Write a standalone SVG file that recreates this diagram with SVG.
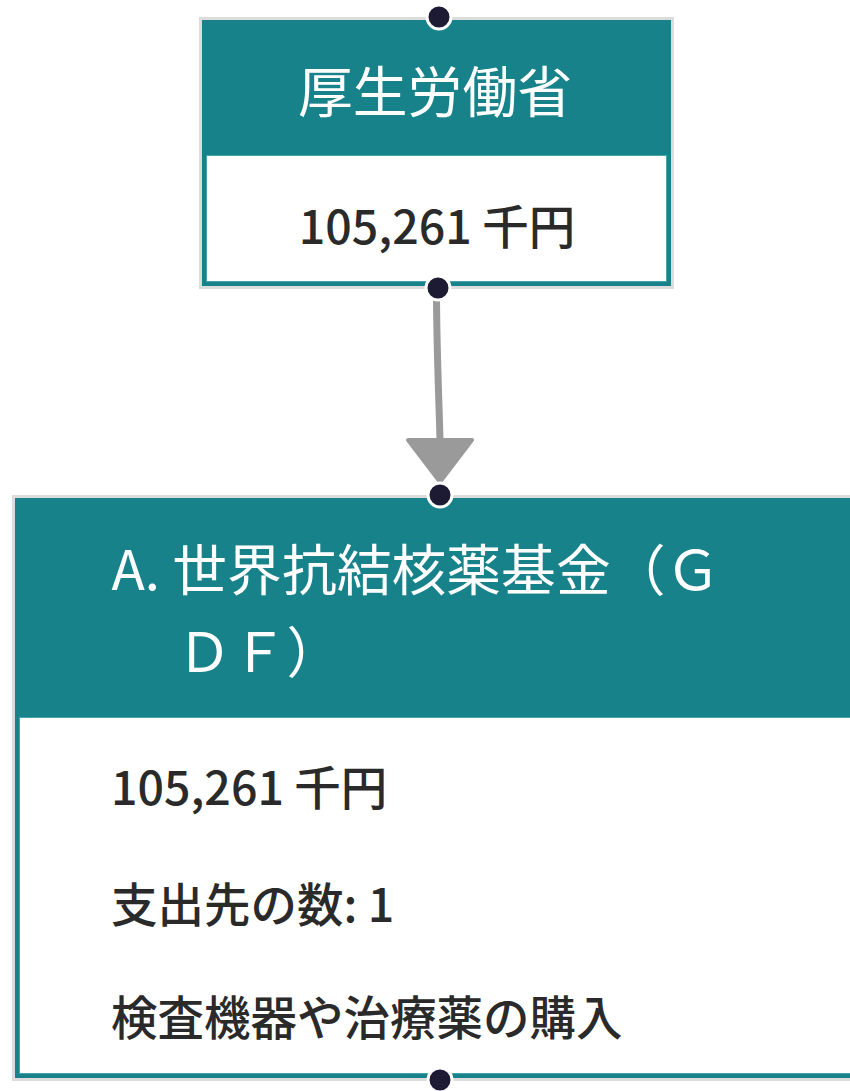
<svg xmlns="http://www.w3.org/2000/svg" width="850" height="1091" viewBox="0 0 850 1091">
<defs>
<style>
.outer{fill:none;stroke:#dcdcdc;stroke-width:3}
.frame{fill:#18828a}
.body{fill:#ffffff;stroke:#4aa3aa;stroke-width:1}
.title{font-family:"Noto Sans CJK JP","Noto Sans",sans-serif;font-size:54.8px;fill:#ffffff;font-weight:400}
.txt{font-family:"Noto Sans CJK JP","Noto Sans",sans-serif;font-size:46.5px;fill:#2a2a2a;font-weight:500}
.dot{fill:#1c1b33;stroke:#ffffff;stroke-width:3}
.edge{fill:none;stroke:#9a9a9a;stroke-width:7}
</style>
</defs>
<rect width="850" height="1091" fill="#ffffff"/>
<g id="connectors">
<path class="edge" d="M436.5,300 C437,360 439,400 440,440"/>
<path d="M408,440 L472,440 L440,482 Z" fill="#9a9a9a" stroke="#9a9a9a" stroke-width="4" stroke-linejoin="round"/>
</g>
<g id="node-mhlw">
<rect class="outer" x="200.5" y="18.5" width="472" height="269"/>
<rect class="frame" x="202" y="20" width="469" height="266"/>
<rect class="body" x="206.5" y="155.5" width="460" height="126"/>
<text class="title" x="435" y="112" text-anchor="middle">厚生労働省</text>
<text class="txt" x="437" y="244" text-anchor="middle">105,261 千円</text>
<circle class="dot" cx="439" cy="17" r="12"/>
<circle class="dot" cx="438" cy="288" r="12"/>
</g>
<g id="node-gdf">
<rect class="outer" x="13.5" y="496.5" width="850" height="583"/>
<rect class="frame" x="15" y="498" width="840" height="580"/>
<rect class="body" x="19.5" y="717.5" width="840" height="356"/>
<text class="title" x="111.5" y="590">A. 世界抗結核薬基金（Ｇ</text>
<text class="title" x="177" y="672">ＤＦ）</text>
<text class="txt" x="111" y="805">105,261 千円</text>
<text class="txt" x="111" y="922">支出先の数: 1</text>
<text class="txt" x="111" y="1035">検査機器や治療薬の購入</text>
<circle class="dot" cx="440" cy="495" r="12"/>
<circle class="dot" cx="440" cy="1080" r="12"/>
</g>
</svg>
